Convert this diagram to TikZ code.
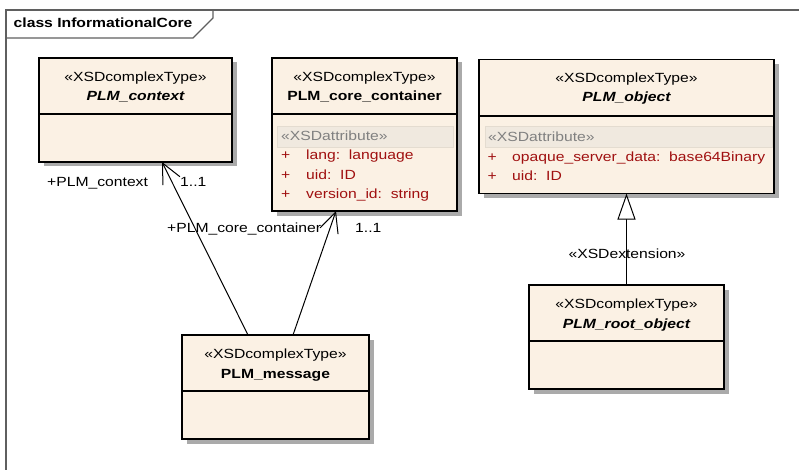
\documentclass[tikz,border=0pt]{standalone}
\usepackage{fontspec}
\setmainfont[FakeStretch=1.18]{Liberation Sans}
\usetikzlibrary{arrows.meta}
\definecolor{boxfill}{RGB}{251,241,228}
\definecolor{bandfill}{RGB}{240,233,223}
\definecolor{bandline}{RGB}{228,220,208}
\definecolor{attrred}{RGB}{160,16,16}
\definecolor{framegray}{RGB}{95,95,95}
\definecolor{shadowgray}{RGB}{170,170,170}
\newcommand\fsz{\fontsize{13.3}{15}\selectfont}
\begin{document}
\begin{tikzpicture}[x=1pt,y=-1pt,
  cls/.style={draw=black, line width=1.2pt, fill=boxfill, inner sep=0pt, outer sep=0pt, anchor=north west,
    preaction={fill=shadowgray, draw=none, transform canvas={xshift=4.5pt, yshift=-4.5pt}}},
  divline/.style={draw=black, line width=1.2pt},
  band/.style={draw=bandline, fill=bandfill, line width=0.6pt, inner sep=0pt, outer sep=0pt, anchor=north west},
  stereo/.style={font=\fsz, inner sep=0pt, anchor=base},
  cname/.style={font=\fsz\bfseries, inner sep=0pt, anchor=base},
  aname/.style={font=\fsz\bfseries\itshape, inner sep=0pt, anchor=base},
  bandtxt/.style={font=\fsz, text=black!50, inner sep=0pt, anchor=base west},
  attr/.style={font=\fsz, text=attrred, inner sep=0pt, anchor=base west},
  lbl/.style={font=\fsz, inner sep=0pt, anchor=base west},
  framestyle/.style={draw=framegray, line width=1.4pt},
  assoc/.style={line width=1pt, -{Straight Barb[length=20pt,width=19pt,line width=1pt]}},
  gen/.style={line width=1pt, -{Triangle[open,length=26pt,width=18pt,fill=white,line width=1pt]}}
]
\useasboundingbox (0,0) rectangle (799,470);

% frame
\draw[framestyle] (6,470) -- (6,10) -- (799,10);
\draw[framestyle] (6,38) -- (193,38) -- (213,18) -- (213,10);
\node[font=\fsz\bfseries, inner sep=0pt, anchor=base west] (title) at (13.5,28) {class InformationalCore};

% PLM_context
\node[cls, minimum width=193pt, minimum height=104pt] (ctx) at (39,58) {};
\draw[divline] (ctx.west |- 0,114) -- (ctx.east |- 0,114);
\node[stereo] (ctxS) at (135.5,82) {«XSDcomplexType»};
\node[aname] (ctxN) at (135.5,101) {PLM\_context};

% PLM_core_container
\node[cls, minimum width=185pt, minimum height=153pt] (cont) at (272,58) {};
\draw[divline] (cont.west |- 0,114) -- (cont.east |- 0,114);
\node[stereo] (contS) at (364.5,81.5) {«XSDcomplexType»};
\node[cname] (contN) at (364.5,101) {PLM\_core\_container};
\node[band, minimum width=176pt, minimum height=21pt] (contBand) at (277,126) {};
\node[bandtxt] (contBT) at (281,140.5) {«XSDattribute»};
\node[attr] (contP1) at (281,160) {+};
\node[attr] (contA1) at (306,160) {lang:\ \ language};
\node[attr] (contP2) at (281,179.5) {+};
\node[attr] (contA2) at (306,179.5) {uid:\ \ ID};
\node[attr] (contP3) at (281,199) {+};
\node[attr] (contA3) at (306,199) {version\_id:\ \ string};

% PLM_object
\node[cls, minimum width=295pt, minimum height=134pt] (obj) at (479,59.5) {};
\draw[divline] (obj.west |- 0,116) -- (obj.east |- 0,116);
\node[stereo] (objS) at (626.5,83) {«XSDcomplexType»};
\node[aname] (objN) at (626.5,102) {PLM\_object};
\node[band, minimum width=287pt, minimum height=21pt] (objBand) at (485,126) {};
\node[bandtxt] (objBT) at (488,141.5) {«XSDattribute»};
\node[attr] (objP1) at (487.5,161.5) {+};
\node[attr] (objA1) at (512,161.5) {opaque\_server\_data:\ \ base64Binary};
\node[attr] (objP2) at (487.5,181) {+};
\node[attr] (objA2) at (512,181) {uid:\ \ ID};

% PLM_root_object
\node[cls, minimum width=195pt, minimum height=104pt] (root) at (529,285) {};
\draw[divline] (root.west |- 0,341) -- (root.east |- 0,341);
\node[stereo] (rootS) at (626.5,308.5) {«XSDcomplexType»};
\node[aname] (rootN) at (626.5,328) {PLM\_root\_object};

% PLM_message
\node[cls, minimum width=187pt, minimum height=104pt] (msg) at (182,335) {};
\draw[divline] (msg.west |- 0,391) -- (msg.east |- 0,391);
\node[stereo] (msgS) at (275.5,358.5) {«XSDcomplexType»};
\node[cname] (msgN) at (275.5,378) {PLM\_message};

% connectors
\draw[assoc] ([xshift=66pt]msg.north west) -- ([xshift=123pt]ctx.south west);
\draw[assoc] ([xshift=111pt]msg.north west) -- ([xshift=64pt]cont.south west);
\draw[gen] (root.north) -- (obj.south);

% labels
\node[lbl] (l1) at (47,186) {+PLM\_context};
\node[lbl] (l2) at (180,186) {1..1};
\node[lbl] (l3) at (167,233) {+PLM\_core\_container};
\node[lbl] (l4) at (355,233) {1..1};
\node[stereo] (ext) at (627,258) {«XSDextension»};
\end{tikzpicture}
\end{document}
